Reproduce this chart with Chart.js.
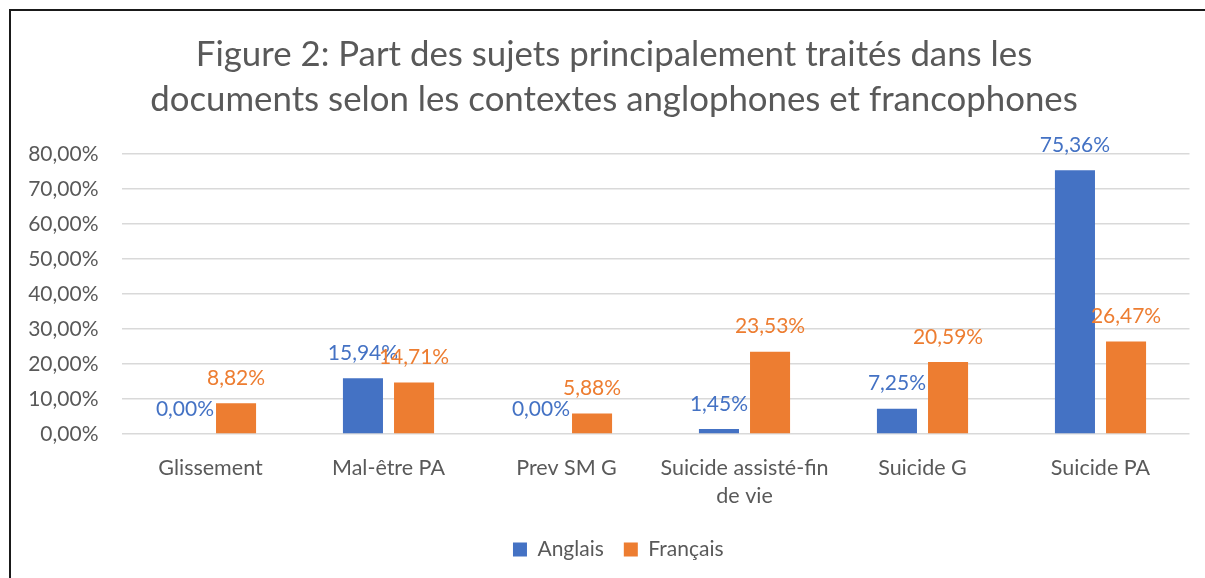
<!DOCTYPE html>
<html>
<head>
<meta charset="utf-8">
<script src="https://cdn.jsdelivr.net/npm/chart.js@4.4.1/dist/chart.umd.min.js"></script>
<style>
  html, body { margin: 0; padding: 0; background: #fff; overflow: hidden; }
  #frame { position: absolute; left: 9px; top: 9px; width: 1208px; height: 620px; border: 2px solid #1a1a1a; box-sizing: border-box; background: #fff; }
  #wrap { position: absolute; left: 0; top: 0; width: 1206px; height: 582px; }
</style>
</head>
<body>
<div id="frame"><div id="wrap"><canvas id="c"></canvas></div></div>
<script>
const categories = ['Glissement', 'Mal-être PA', 'Prev SM G', ['Suicide assisté-fin', 'de vie'], 'Suicide G', 'Suicide PA'];
const anglais = [0.00, 15.94, 0.00, 1.45, 7.25, 75.36];
const francais = [8.82, 14.71, 5.88, 23.53, 20.59, 26.47];
const seriesNames = ['Anglais', 'Français'];
const titleLines = ['Figure 2: Part des sujets principalement traités dans les', 'documents selon les contextes anglophones et francophones'];
const yTicks = [0, 10, 20, 30, 40, 50, 60, 70, 80];

const BLUE = '#4472C4', ORANGE = '#ED7D31', TEXT = '#595959', GRID = '#D9D9D9';
const FONT = 'Lato';
const fmt = v => v.toFixed(2).replace('.', ',') + '%';

const labelPlugin = {
  id: 'barLabels',
  afterDatasetsDraw(chart) {
    const ctx = chart.ctx;
    ctx.save();
    ctx.font = '21px ' + FONT;
    ctx.textAlign = 'center';
    ctx.textBaseline = 'middle';
    chart.data.datasets.forEach((ds, i) => {
      const meta = chart.getDatasetMeta(i);
      meta.data.forEach((bar, j) => {
        ctx.fillStyle = ds.backgroundColor;
        ctx.fillText(fmt(ds.data[j]), bar.x, bar.y - 25);
      });
    });
    ctx.restore();
  }
};

const titlePlugin = {
  id: 'offsetTitle',
  afterLayout(chart) {
    if (chart.legend) {
      chart.legend.left += 18; chart.legend.right += 18;
      chart.legend.top -= 11; chart.legend.bottom -= 11;
    }
  },
  afterDraw(chart) {
    const ctx = chart.ctx;
    ctx.save();
    ctx.font = '34.8px ' + FONT;
    ctx.fillStyle = TEXT;
    ctx.textAlign = 'center';
    ctx.textBaseline = 'middle';
    titleLines.forEach((t, i) => ctx.fillText(t, 603, 44 + i * 45));
    ctx.restore();
  }
};

new Chart(document.getElementById('c'), {
  type: 'bar',
  data: {
    labels: categories,
    datasets: [
      { label: seriesNames[0], data: anglais, backgroundColor: BLUE, categoryPercentage: 0.574, barPercentage: 0.784 },
      { label: seriesNames[1], data: francais, backgroundColor: ORANGE, categoryPercentage: 0.574, barPercentage: 0.784 }
    ]
  },
  options: {
    responsive: true,
    maintainAspectRatio: false,
    animation: false,
    layout: { padding: { left: 0, right: 27.5, top: 143, bottom: 12 } },
    plugins: {
      title: { display: false },
      legend: {
        position: 'bottom',
        labels: { color: TEXT, font: { family: FONT, size: 21 }, boxWidth: 14, boxHeight: 14, padding: 20 }
      },
      tooltip: { enabled: false }
    },
    scales: {
      x: {
        grid: { display: false, drawTicks: false },
        border: { display: false },
        ticks: { color: TEXT, font: { family: FONT, size: 21.5, lineHeight: 1.3 }, padding: 20, maxRotation: 0, autoSkip: false }
      },
      y: {
        min: 0, max: 80,
        afterFit(s) { s.width = 110.5; },
        afterBuildTicks(s) { s.ticks = yTicks.map(v => ({ value: v })); },
        grid: { color: GRID, lineWidth: 1.5, drawTicks: false },
        border: { display: false },
        ticks: { color: TEXT, font: { family: FONT, size: 21 }, padding: 23, callback: v => fmt(v) }
      }
    }
  },
  plugins: [labelPlugin, titlePlugin]
});
</script>
</body>
</html>
